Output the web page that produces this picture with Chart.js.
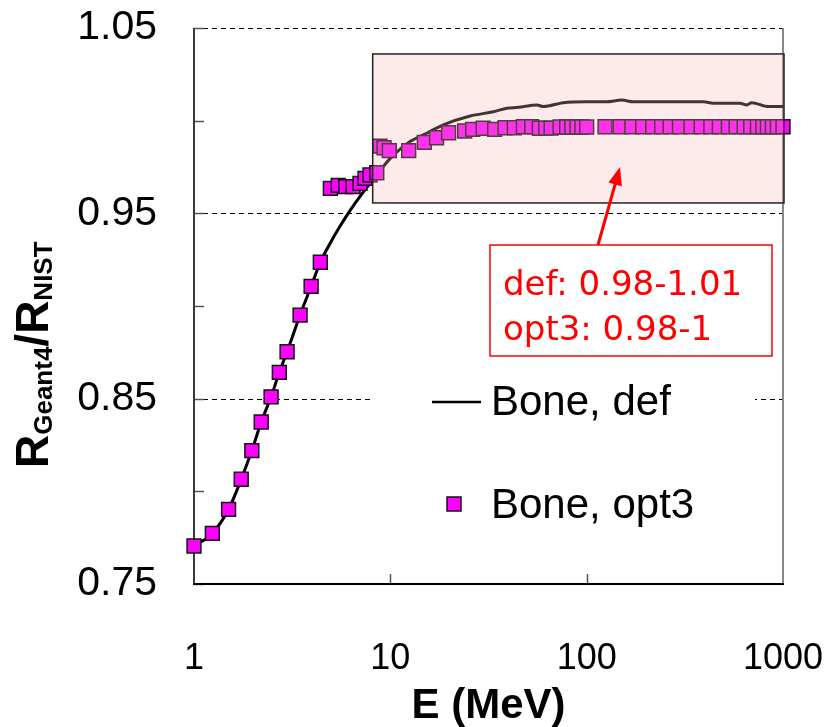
<!DOCTYPE html>
<html>
<head>
<meta charset="utf-8">
<script src="https://cdn.jsdelivr.net/npm/chart.js@4/dist/chart.umd.min.js"></script>
<style>
  html, body { margin: 0; padding: 0; background: #fff; }
  #wrap { width: 836px; height: 727px; }
</style>
</head>
<body>
<div id="wrap"><canvas id="chart" width="836" height="727"></canvas></div>
<script>
// E (MeV) and R_Geant4/R_NIST for the opt3 markers
const optE = [1.0, 1.24, 1.5, 1.74, 1.97, 2.2, 2.47, 2.72, 2.98, 3.47, 3.95, 4.4,
  4.95, 5.43, 5.93, 6.46, 7.01, 7.43, 7.88, 8.53, 8.86, 9.29, 9.88,
  12.4, 14.9, 17.2, 19.8, 23.9, 26.3, 29.7, 34, 38.4, 42.8, 47.6, 52.5, 57.4, 61.9, 65.9,
  73.2, 79.1, 84, 89.2, 94.5, 100,
  124, 148, 170, 193, 217, 241, 266, 297, 340, 383, 429, 474, 527, 577, 634, 685, 741, 789, 833, 883, 936, 1000];
const optR = [0.7705, 0.7773, 0.7903, 0.8065, 0.822, 0.8374, 0.851, 0.8642, 0.8753, 0.8951, 0.9106, 0.9236,
  0.9635, 0.9651, 0.9644, 0.9644, 0.9662, 0.9689, 0.9707, 0.9719, 0.9863, 0.9854, 0.9838,
  0.9838, 0.9883, 0.9908, 0.9935, 0.9944, 0.9953, 0.9959, 0.9953, 0.9962, 0.9962, 0.9967, 0.9967, 0.9959, 0.996, 0.996,
  0.9966, 0.9966, 0.9966, 0.9966, 0.9966, 0.9966,
  0.9967, 0.9967, 0.9967, 0.9967, 0.9967, 0.9967, 0.9967, 0.9967, 0.9967, 0.9967, 0.9967, 0.9967, 0.9967, 0.9967, 0.9967, 0.9967, 0.9967, 0.9967, 0.9967, 0.9967, 0.9967, 0.9967];

// default physics list curve
const defE = [1.0, 1.24, 1.5, 1.74, 1.97, 2.2, 2.47, 2.72, 2.98, 3.47, 3.95, 4.4, 4.93, 5.54, 6.23, 7.01, 7.88, 8.53,
  9.3, 10.4, 12.6, 15.3, 18.6, 25.5, 33.5, 39.2, 45, 55.7, 60.2, 76, 100, 126, 151, 173, 237, 393, 442, 603, 654, 693, 843, 1000];
const defR = [0.7705, 0.7773, 0.7903, 0.8065, 0.822, 0.8374, 0.851, 0.8642, 0.8753, 0.8951, 0.9106, 0.9236, 0.9337, 0.943, 0.9515, 0.9592, 0.9661, 0.9703,
  0.9758, 0.9815, 0.9887, 0.9932, 0.9977, 1.0025, 1.0048, 1.0067, 1.0072, 1.0085, 1.0076, 1.0097, 1.0102, 1.0102, 1.0111, 1.0102, 1.0102, 1.0102, 1.0094, 1.0094, 1.0085, 1.0097, 1.0076, 1.0076];

const xTicks = [1, 10, 100, 1000];
const dashedLevels = [0.85, 0.95, 1.05];
const seriesNames = ['Bone, def', 'Bone, opt3'];
const noteLines = ['def: 0.98-1.01', 'opt3: 0.98-1'];
const boxRange = { e0: 8.13, r0: 0.9556, r1: 1.036 };

const SANS = '"Liberation Sans", Arial, sans-serif';

const decor = {
  id: 'decor',
  beforeDatasetsDraw(chart) {
    const { ctx, chartArea: a, scales: { x, y } } = chart;
    ctx.save();
    // dashed grid lines
    ctx.strokeStyle = '#000';
    ctx.lineWidth = 1;
    ctx.setLineDash([5, 4]);
    dashedLevels.forEach(v => {
      const py = Math.round(y.getPixelForValue(v)) + 0.5;
      ctx.beginPath(); ctx.moveTo(a.left, py); ctx.lineTo(a.right, py); ctx.stroke();
    });
    ctx.setLineDash([]);
    // inward ticks on left axis
    ctx.strokeStyle = '#555';
    ctx.lineWidth = 1.5;
    for (let k = 0; k <= 6; k++) {
      const py = Math.round(y.getPixelForValue(0.75 + k * 0.05)) + 0.5;
      ctx.beginPath(); ctx.moveTo(a.left, py); ctx.lineTo(a.left + 10, py); ctx.stroke();
    }
    // inward ticks on bottom axis
    xTicks.slice(1, -1).forEach(v => {
      const px = Math.round(x.getPixelForValue(v)) + 0.5;
      ctx.beginPath(); ctx.moveTo(px, a.bottom); ctx.lineTo(px, a.bottom - 10); ctx.stroke();
    });
    // axes
    ctx.lineWidth = 2;
    ctx.strokeStyle = '#888';
    ctx.beginPath(); ctx.moveTo(a.right, a.top); ctx.lineTo(a.right, a.bottom); ctx.stroke();
    ctx.strokeStyle = '#3a3a3a';
    ctx.beginPath(); ctx.moveTo(a.left, a.top); ctx.lineTo(a.left, a.bottom); ctx.stroke();
    ctx.strokeStyle = '#000';
    ctx.beginPath(); ctx.moveTo(a.left - 1, a.bottom); ctx.lineTo(a.right + 1, a.bottom); ctx.stroke();
    ctx.restore();
  },
  afterDatasetsDraw(chart) {
    const { ctx, chartArea: a, scales: { x, y } } = chart;
    ctx.save();
    // highlighted region
    const bx0 = x.getPixelForValue(boxRange.e0), bx1 = a.right + 1;
    const by0 = y.getPixelForValue(boxRange.r1), by1 = y.getPixelForValue(boxRange.r0);
    ctx.fillStyle = 'rgba(248,180,180,0.28)';
    ctx.fillRect(bx0, by0, bx1 - bx0, by1 - by0);
    ctx.strokeStyle = '#222';
    ctx.lineWidth = 1.5;
    ctx.strokeRect(bx0, by0, bx1 - bx0, by1 - by0);

    // legend
    ctx.fillStyle = '#fff';
    ctx.fillRect(372, 368, 383, 175);
    ctx.strokeStyle = '#000';
    ctx.lineWidth = 2.5;
    ctx.beginPath(); ctx.moveTo(432, 402); ctx.lineTo(481, 402); ctx.stroke();
    ctx.fillStyle = '#ff00ff';
    ctx.fillRect(447, 497, 14, 14);
    ctx.lineWidth = 1.5;
    ctx.strokeStyle = '#111';
    ctx.strokeRect(447, 497, 14, 14);
    ctx.fillStyle = '#000';
    ctx.font = '42px ' + SANS;
    ctx.textAlign = 'left';
    ctx.textBaseline = 'alphabetic';
    ctx.fillText(seriesNames[0], 491, 415);
    ctx.fillText(seriesNames[1], 491, 518);

    // note box
    ctx.fillStyle = '#fff';
    ctx.fillRect(490, 245, 282, 111);
    ctx.strokeStyle = '#ff0000';
    ctx.lineWidth = 1.5;
    ctx.strokeRect(490, 245, 282, 111);
    ctx.fillStyle = '#ff0000';
    ctx.font = '34px "DejaVu Sans", Verdana, sans-serif';
    ctx.fillText(noteLines[0], 503, 295);
    ctx.fillText(noteLines[1], 503, 340);

    // arrow
    const tx = 598, ty = 245, hx = 620, hy = 167;
    const ang = Math.atan2(hy - ty, hx - tx);
    ctx.strokeStyle = '#ff0000';
    ctx.lineWidth = 3;
    ctx.beginPath(); ctx.moveTo(tx, ty);
    ctx.lineTo(hx - 14 * Math.cos(ang), hy - 14 * Math.sin(ang)); ctx.stroke();
    ctx.beginPath();
    ctx.moveTo(hx, hy);
    ctx.lineTo(hx - 18 * Math.cos(ang) + 7 * Math.sin(ang), hy - 18 * Math.sin(ang) - 7 * Math.cos(ang));
    ctx.lineTo(hx - 18 * Math.cos(ang) - 7 * Math.sin(ang), hy - 18 * Math.sin(ang) + 7 * Math.cos(ang));
    ctx.closePath(); ctx.fill();

    // x title
    ctx.fillStyle = '#000';
    ctx.font = 'bold 42px ' + SANS;
    ctx.textAlign = 'center';
    ctx.fillText('E (MeV)', (a.left + a.right) / 2, 718);

    // y title with subscripts
    ctx.translate(48, 468);
    ctx.rotate(-Math.PI / 2);
    ctx.textAlign = 'left';
    const parts = [['R', 46, 0], ['Geant4', 26, 4], ['/R', 46, 0], ['NIST', 26, 4]];
    let cx = 0;
    parts.forEach(([t, s, dy]) => {
      ctx.font = 'bold ' + s + 'px ' + SANS;
      ctx.fillText(t, cx, dy);
      cx += ctx.measureText(t).width;
    });
    ctx.restore();
  }
};

new Chart(document.getElementById('chart'), {
  type: 'line',
  data: {
    datasets: [
      {
        label: seriesNames[1],
        data: optE.map((e, i) => ({ x: e, y: optR[i] })),
        showLine: false,
        pointStyle: 'rect',
        pointRadius: 9.8,
        pointBackgroundColor: '#ff00ff',
        pointBorderColor: '#111',
        pointBorderWidth: 1.5,
        clip: false
      },
      {
        label: seriesNames[0],
        data: defE.map((e, i) => ({ x: e, y: defR[i] })),
        borderColor: '#000',
        borderWidth: 3,
        pointRadius: 0,
        fill: false,
        cubicInterpolationMode: 'monotone'
      }
    ]
  },
  options: {
    responsive: false,
    animation: false,
    devicePixelRatio: 1,
    layout: { padding: { left: 0, right: 53, top: 28, bottom: 0 } },
    plugins: { legend: { display: false }, tooltip: { enabled: false } },
    scales: {
      x: {
        type: 'logarithmic',
        min: 1, max: 1000,
        afterBuildTicks: s => { s.ticks = xTicks.map(v => ({ value: v })); },
        afterFit: s => { s.height = 143; s.paddingLeft = 0; s.paddingRight = 0; },
        grid: { display: false, drawTicks: false },
        border: { display: false },
        ticks: {
          color: '#000', padding: 53, maxRotation: 0, autoSkip: false,
          font: { size: 36, family: SANS },
          callback: v => String(v)
        }
      },
      y: {
        type: 'linear',
        min: 0.75, max: 1.05,
        afterFit: s => { s.width = 194; s.paddingTop = 0; s.paddingBottom = 0; },
        grid: { display: false, drawTicks: false },
        border: { display: false },
        ticks: {
          stepSize: 0.05, color: '#000', padding: 37,
          font: { size: 41, family: SANS },
          callback: v => { const k = Math.round(v * 100); return k % 10 === 5 ? (k / 100).toFixed(2) : ''; }
        }
      }
    }
  },
  plugins: [decor]
});
</script>
</body>
</html>
